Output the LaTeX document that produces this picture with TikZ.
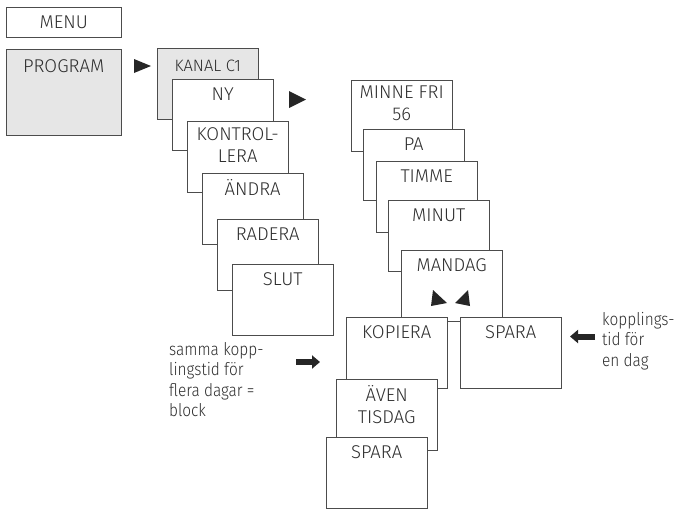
\documentclass[tikz,border=0pt]{standalone}
\usepackage{fontspec}
\setmainfont{Fira Sans}[UprightFont={* Light}]
\newfontfamily\notefont{Fira Sans}[UprightFont={* Light},FakeStretch=0.88]
\usetikzlibrary{arrows.meta}
\definecolor{ink}{HTML}{2E2E2E}
\definecolor{lgray}{HTML}{E6E6E6}

\begin{document}
\begin{tikzpicture}[x=1pt,y=-1pt,font=\fontsize{18.5}{22}\selectfont,text=ink,
  box/.style={draw=black!70,fill=white,minimum width=101pt,minimum height=71pt,anchor=north west,inner sep=0pt},
  lbl/.style={anchor=north,yshift=-6pt,inner sep=0pt,align=center,execute at begin node=\strut},
  note/.style={anchor=north west,inner sep=0pt,align=left,font=\notefont\fontsize{17.5}{20.5}\selectfont},
  fat/.style={draw=black!85,line width=6pt,-{Triangle[length=8pt,width=13pt]}}]
\useasboundingbox (0,0) rectangle (679,509);
% left column
\node[box,minimum width=115pt,minimum height=30pt] (menu) at (6,7) {MENU};
\node[box,fill=lgray,minimum width=115pt,minimum height=86pt,label={[lbl,yshift=-2pt]north:PROGRAM}] (prog) at (6,49) {};
\fill[black!85] (134,59) -- (151,66) -- (134,73) -- cycle;
% program submenu
\node[box,fill=lgray,label={[lbl,yshift=-2pt]north:\fontsize{16.5}{20}\selectfont KANAL C1}] (kanal) at (157,48) {};
\node[box,label={[lbl]north:NY}] (ny) at (172,79) {};
\node[box,label={[lbl]north:KONTROL-\\LERA}] (kontr) at (187,121) {};
\node[box,label={[lbl]north:ÄNDRA}] (andra) at (202,173) {};
\node[box,label={[lbl]north:RADERA}] (radera) at (217,219) {};
\node[box,label={[lbl]north:SLUT}] (slut) at (232,264) {};
\fill[black!85] (289,91) -- (306,99.5) -- (289,108) -- cycle;
% new switching time
\node[box,label={[lbl]north:MINNE FRI\\56}] (minne) at (351,80) {};
\node[box,label={[lbl]north:PA}] (pa) at (363,129) {};
\node[box,label={[lbl]north:TIMME}] (timme) at (376,161) {};
\node[box,label={[lbl]north:MINUT}] (minut) at (388,200) {};
\node[box,label={[lbl]north:MANDAG}] (mandag) at (401,250) {};
\fill[black!85] (433,290) -- (447,303) -- (431,306) -- cycle;
\fill[black!85] (468,290) -- (455,303) -- (470,306) -- cycle;
\node[box,label={[lbl]north:KOPIERA}] (kopiera) at (346,317) {};
\node[box,label={[lbl]north:SPARA}] (spara) at (460,317) {};
\node[box,label={[lbl]north:ÄVEN\\TISDAG}] (aven) at (336,379) {};
\node[box,label={[lbl]north:SPARA}] (sparab) at (326,437) {};
% side notes
\node[note] (block) at (169,342) {samma kopp-\\lingstid för\\flera dagar =\\block};
\node[note] (endag) at (602,312) {kopplings-\\tid för\\en dag};
\coordinate (b1) at (296,362);\coordinate (b2) at (320,362);
\coordinate (e1) at (595,336.5);\coordinate (e2) at (570,336.5);
\draw[fat] (b1) -- (b2);\draw[fat] (e1) -- (e2);
\end{tikzpicture}
\end{document}
